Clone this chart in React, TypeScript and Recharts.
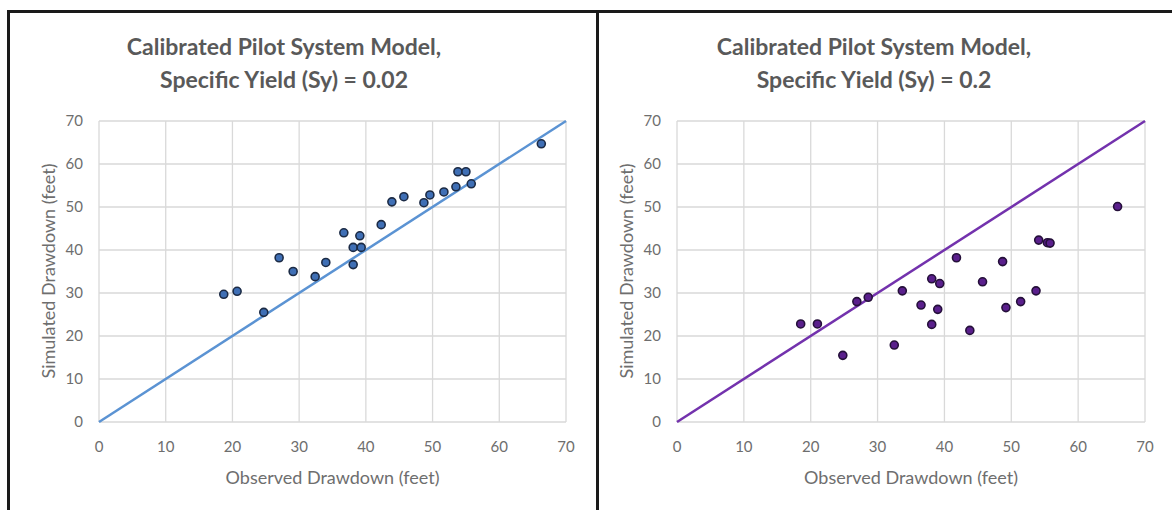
import { ScatterChart, Scatter, XAxis, YAxis, CartesianGrid } from 'recharts';

// Sy = 0.02 run
const lowObserved = [18.7, 20.7, 24.7, 27.0, 29.1, 32.4, 34.0, 36.7, 38.1, 38.1, 39.3, 39.1, 42.3, 43.9, 45.7, 48.7, 49.6, 51.7, 53.5, 53.8, 55.0, 55.8, 66.3];
const lowSimulated = [29.7, 30.4, 25.5, 38.2, 35.0, 33.8, 37.1, 44.0, 36.6, 40.6, 40.6, 43.3, 45.9, 51.2, 52.4, 51.0, 52.8, 53.5, 54.7, 58.2, 58.2, 55.4, 64.7];

// Sy = 0.2 run
const highObserved = [18.5, 21.0, 24.8, 26.9, 28.6, 32.5, 33.7, 36.5, 38.1, 39.3, 39.0, 38.1, 41.8, 43.8, 45.7, 48.7, 49.2, 51.4, 53.7, 54.1, 55.4, 55.8, 65.9];
const highSimulated = [22.8, 22.8, 15.5, 28.0, 29.0, 17.9, 30.5, 27.2, 33.3, 32.2, 26.2, 22.7, 38.2, 21.3, 32.6, 37.3, 26.6, 28.0, 30.5, 42.3, 41.7, 41.6, 50.1];

const axisTicks = [0, 10, 20, 30, 40, 50, 60, 70];
const oneToOne = [0, 70];

const font = 'Lato, "Open Sans", sans-serif';
const gray = '#595959';
const tickGray = '#6e6e6e';

function toPoints(xs: number[], ys: number[]) {
    return xs.map((x, i) => ({ x, y: ys[i] }));
}

function Panel({ left, width, marginLeft, marginRight, title1, title2, titleX, xs, ys, lineColor, dotFill, dotStroke }: any) {
    const points = toPoints(xs, ys);
    const line = oneToOne.map((v) => ({ x: v, y: v }));
    const plotLeft = marginLeft + 40;
    const plotRight = width - marginRight;
    const plotCenter = (plotLeft + plotRight) / 2;

    return (
        <div style={{ position: 'absolute', left, top: 0, width, height: 510, fontFamily: font }}>
            <div style={{ position: 'absolute', left: titleX - 250, width: 500, top: 30, textAlign: 'center', fontSize: 23, fontWeight: 700, color: gray, lineHeight: '33px' }}>
                {title1}<br />{title2}
            </div>
            <ScatterChart width={width} height={510} margin={{ top: 121, right: marginRight, bottom: 58, left: marginLeft }}>
                <CartesianGrid stroke="#d9d9d9" strokeWidth={1.3} />
                <XAxis type="number" dataKey="x" domain={[0, 70]} ticks={axisTicks} height={30} axisLine={false} tickLine={false}
                    tickMargin={13} tick={{ fill: tickGray, fontSize: 15, fontFamily: font }} />
                <YAxis type="number" dataKey="y" domain={[0, 70]} ticks={axisTicks} width={40} axisLine={false} tickLine={false}
                    tickMargin={10} tick={{ fill: tickGray, fontSize: 15, fontFamily: font }} />
                <Scatter data={line} line={{ stroke: lineColor, strokeWidth: 2.5 }} lineType="joint" shape={() => <g />} isAnimationActive={false} />
                <Scatter data={points} isAnimationActive={false}
                    shape={(p: any) => <circle cx={p.cx} cy={p.cy} r={4} fill={dotFill} stroke={dotStroke} strokeWidth={1.6} />} />
            </ScatterChart>
            <div style={{ position: 'absolute', left: plotCenter - 150, width: 300, top: 466, textAlign: 'center', fontSize: 18, color: tickGray }}>
                Observed Drawdown (feet)
            </div>
            <div style={{ position: 'absolute', left: plotLeft - 51 - 150, width: 300, top: 260, textAlign: 'center', fontSize: 18, color: tickGray, transform: 'rotate(-90deg)' }}>
                Simulated Drawdown (feet)
            </div>
        </div>
    );
}

export default function App() {
    return (
        <div style={{ position: 'absolute', left: 0, top: 0, width: 1172, height: 510, background: '#fff', overflow: 'hidden' }}>
            <Panel left={0} width={590} marginLeft={59} marginRight={24} titleX={284}
                title1="Calibrated Pilot System Model," title2="Specific Yield (Sy) = 0.02"
                xs={lowObserved} ys={lowSimulated} lineColor="#5b93d3" dotFill="#3f6fb5" dotStroke="#1c2b45" />
            <Panel left={598} width={574} marginLeft={39} marginRight={27} titleX={276}
                title1="Calibrated Pilot System Model," title2="Specific Yield (Sy) = 0.2"
                xs={highObserved} ys={highSimulated} lineColor="#7332ad" dotFill="#5a1f8c" dotStroke="#25103a" />
            <div style={{ position: 'absolute', left: 7, top: 10, width: 1165, height: 3, background: '#1a1a1a' }} />
            <div style={{ position: 'absolute', left: 7, top: 10, width: 3, height: 500, background: '#1a1a1a' }} />
            <div style={{ position: 'absolute', left: 596, top: 10, width: 3, height: 500, background: '#1a1a1a' }} />
        </div>
    );
}
